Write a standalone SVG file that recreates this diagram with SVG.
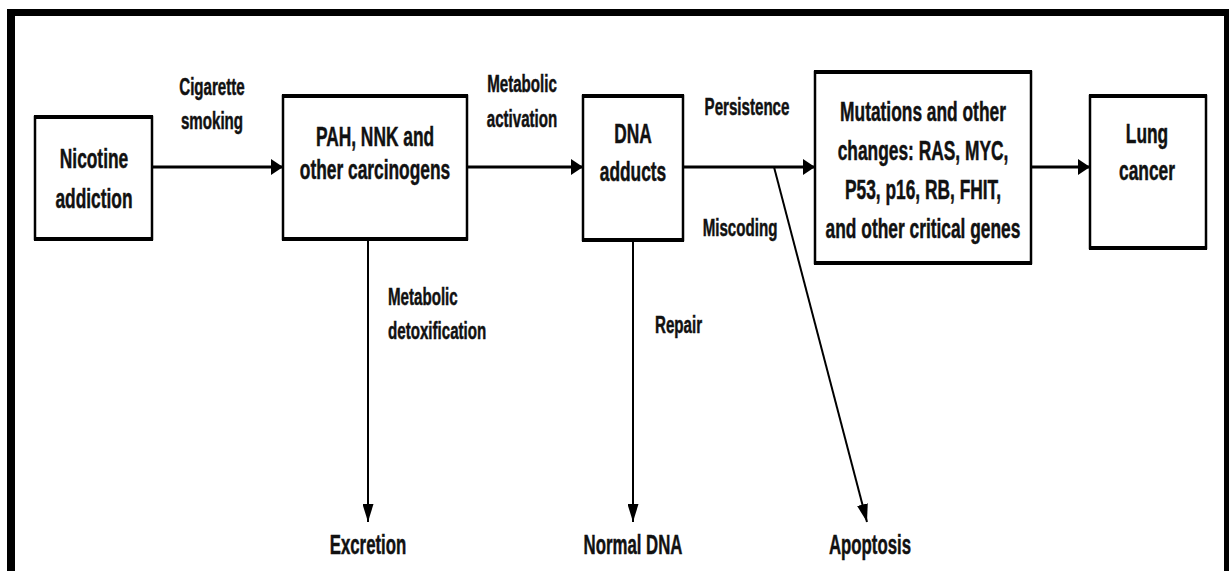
<svg xmlns="http://www.w3.org/2000/svg" width="1229" height="571" viewBox="0 0 1229 571">
<style>
.box{fill:#fff;stroke:#000;stroke-width:2.5}
.edge{stroke:#000;stroke-width:4}
.t{font-family:"Liberation Sans",Arial,sans-serif;font-weight:bold;fill:#111;stroke:#111;stroke-width:0.5;text-anchor:middle}
.b{font-size:28px}
.l{font-size:24px}
.s{text-anchor:start}
.thick{stroke:#000;stroke-width:3;fill:none}
.thin{stroke:#000;stroke-width:2;fill:none}
</style>
<defs>
<marker id="ah" markerUnits="userSpaceOnUse" markerWidth="13" markerHeight="16" refX="12" refY="8" orient="auto"><path d="M0,0 L12,8 L0,16 z" fill="#000"/></marker>
<marker id="av" markerUnits="userSpaceOnUse" markerWidth="19" markerHeight="11" refX="18" refY="5.5" orient="auto"><path d="M0,0 L18,5.5 L0,11 z" fill="#000"/></marker>
</defs>
<rect width="1229" height="571" fill="#fff"/>
<g id="frame">
<rect x="7" y="9" width="8" height="562" fill="#000"/>
<rect x="7" y="9" width="1222" height="7" fill="#000"/>
<rect x="1224" y="9" width="5" height="562" fill="#000"/>
</g>
<g id="connectors">
<line class="thick" x1="152" y1="167" x2="283" y2="167" marker-end="url(#ah)"/>
<line class="thick" x1="467" y1="167" x2="583" y2="167" marker-end="url(#ah)"/>
<line class="thick" x1="683" y1="167" x2="815" y2="167" marker-end="url(#ah)"/>
<line class="thick" x1="1031" y1="167" x2="1090" y2="167" marker-end="url(#ah)"/>
<line class="thin" x1="368" y1="239" x2="368" y2="522" marker-end="url(#av)"/>
<line class="thin" x1="633" y1="240" x2="633" y2="522" marker-end="url(#av)"/>
<line class="thin" x1="774" y1="167" x2="867" y2="522" marker-end="url(#av)"/>
<text class="t l" transform="translate(212,95) scale(0.63,1)">Cigarette</text>
<text class="t l" transform="translate(212,129) scale(0.63,1)">smoking</text>
<text class="t l" transform="translate(522,92) scale(0.63,1)">Metabolic</text>
<text class="t l" transform="translate(522,127) scale(0.63,1)">activation</text>
<text class="t l" transform="translate(747,115) scale(0.63,1)">Persistence</text>
<text class="t l" transform="translate(740,236) scale(0.63,1)">Miscoding</text>
<text class="t l s" transform="translate(388,305) scale(0.63,1)">Metabolic</text>
<text class="t l s" transform="translate(388,339) scale(0.63,1)">detoxification</text>
<text class="t l s" transform="translate(655,333) scale(0.63,1)">Repair</text>
</g>
<g id="nicotine">
<rect class="box" x="35" y="117" width="117" height="122"/>
<line class="edge" x1="34" y1="117" x2="153" y2="117"/><line class="edge" x1="34" y1="239" x2="153" y2="239"/>
<text class="t b" transform="translate(94,168) scale(0.62,1)">Nicotine</text>
<text class="t b" transform="translate(94,208) scale(0.62,1)">addiction</text>
</g>
<g id="pah">
<rect class="box" x="283" y="96" width="184" height="143"/>
<line class="edge" x1="282" y1="96" x2="468" y2="96"/><line class="edge" x1="282" y1="239" x2="468" y2="239"/>
<text class="t b" transform="translate(375,146) scale(0.62,1)">PAH, NNK and</text>
<text class="t b" transform="translate(375,179) scale(0.62,1)">other carcinogens</text>
</g>
<g id="dna">
<rect class="box" x="583" y="96" width="100" height="144"/>
<line class="edge" x1="582" y1="96" x2="684" y2="96"/><line class="edge" x1="582" y1="240" x2="684" y2="240"/>
<text class="t b" transform="translate(633,143) scale(0.62,1)">DNA</text>
<text class="t b" transform="translate(633,181) scale(0.62,1)">adducts</text>
</g>
<g id="mutations">
<rect class="box" x="815" y="72" width="216" height="191"/>
<line class="edge" x1="814" y1="72" x2="1032" y2="72"/><line class="edge" x1="814" y1="263" x2="1032" y2="263"/>
<text class="t b" transform="translate(923,121) scale(0.62,1)">Mutations and other</text>
<text class="t b" transform="translate(923,160) scale(0.62,1)">changes: RAS, MYC,</text>
<text class="t b" transform="translate(923,199) scale(0.62,1)">P53, p16, RB, FHIT,</text>
<text class="t b" transform="translate(923,238) scale(0.62,1)">and other critical genes</text>
</g>
<g id="lung">
<rect class="box" x="1090" y="96" width="116" height="152"/>
<line class="edge" x1="1089" y1="96" x2="1207" y2="96"/><line class="edge" x1="1089" y1="248" x2="1207" y2="248"/>
<text class="t b" transform="translate(1147,143) scale(0.62,1)">Lung</text>
<text class="t b" transform="translate(1147,180) scale(0.62,1)">cancer</text>
</g>
<g id="excretion"><text class="t b" transform="translate(368,554) scale(0.6,1)">Excretion</text></g>
<g id="normal-dna"><text class="t b" transform="translate(633,554) scale(0.6,1)">Normal DNA</text></g>
<g id="apoptosis"><text class="t b" transform="translate(870,554) scale(0.6,1)">Apoptosis</text></g>
</svg>
